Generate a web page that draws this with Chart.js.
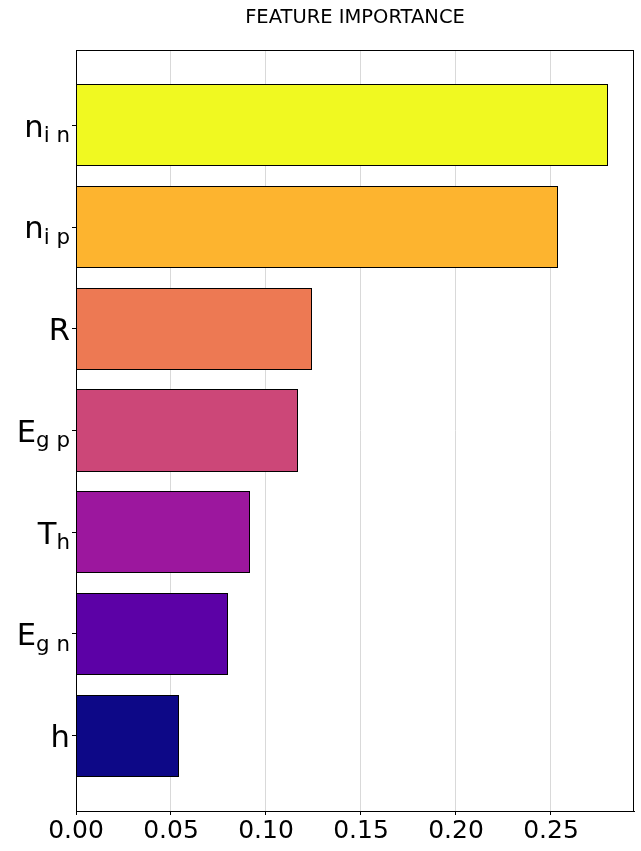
<!DOCTYPE html>
<html>
<head>
<meta charset="utf-8">
<script src="https://cdn.jsdelivr.net/npm/chart.js@4/dist/chart.umd.min.js"></script>
<style>
  html, body { margin: 0; padding: 0; background: #ffffff; }
  #wrap { width: 641px; height: 851px; position: relative; }
</style>
</head>
<body>
<div id="wrap"><canvas id="c"></canvas></div>
<script>
// ---- data (top to bottom as shown) ----
const chartTitle = 'FEATURE IMPORTANCE';
const categories = ['n_i n', 'n_i p', 'R', 'E_g p', 'T_h', 'E_g n', 'h'];
const importance = [0.2796, 0.2535, 0.1237, 0.1166, 0.0914, 0.0795, 0.0537];
const barColors = ['#f0f921', '#fdb42f', '#ed7953', '#cc4778', '#9c179e', '#5c01a6', '#0d0887'];
const xTickValues = [0, 0.05, 0.10, 0.15, 0.20, 0.25];

const n = categories.length;
// category position: top item gets highest index (matplotlib barh style)
const points = importance.map((v, i) => ({ x: v, y: n - 1 - i }));
const labelByPos = {};
categories.forEach((c, i) => { labelByPos[n - 1 - i] = c; });

const FONT = '"DejaVu Sans", Verdana, sans-serif';

// crisp black outlines around the library's bar elements
const outlinePlugin = {
  id: 'outline',
  afterDatasetsDraw(chart) {
    const ctx = chart.ctx;
    ctx.save();
    ctx.strokeStyle = '#000000';
    ctx.lineWidth = 1;
    chart.getDatasetMeta(0).data.forEach(el => {
      const p = el.getProps(['x', 'y', 'base', 'height'], true);
      const l = Math.floor(Math.min(p.base, p.x));
      const r = Math.floor(Math.max(p.base, p.x));
      const t = Math.floor(p.y - p.height / 2);
      const b = Math.floor(p.y + p.height / 2);
      ctx.strokeRect(l + 0.5, t + 0.5, r - l, b - t);
    });
    ctx.restore();
  }
};

const decorPlugin = {
  id: 'decor',
  afterDraw(chart) {
    const ctx = chart.ctx;
    const a = chart.chartArea;
    const ys = chart.scales.y;
    ctx.save();
    // frame (all four spines)
    ctx.strokeStyle = '#000000';
    ctx.lineWidth = 1;
    ctx.strokeRect(Math.round(a.left) + 0.5, Math.round(a.top) + 0.5,
                   Math.round(a.right - a.left) - 1, Math.round(a.bottom - a.top));
    // title
    ctx.fillStyle = '#000000';
    ctx.font = '19.5px ' + FONT;
    ctx.textAlign = 'center';
    ctx.textBaseline = 'alphabetic';
    ctx.fillText(chartTitle, (a.left + a.right) / 2, 23);
    // y labels with subscripts
    const rightX = a.left - 6;
    ys.ticks.forEach(t => {
      const lab = labelByPos[t.value];
      if (lab === undefined) return;
      const yPix = ys.getPixelForValue(t.value);
      const parts = lab.split('_');
      const base = parts[0];
      const sub = parts.length > 1 ? parts[1] : '';
      ctx.textAlign = 'left';
      ctx.font = '21.4px ' + FONT;
      const subW = sub ? ctx.measureText(sub).width : 0;
      ctx.font = '30.6px ' + FONT;
      const baseW = ctx.measureText(base).width;
      const x0 = rightX - subW - baseW;
      ctx.fillText(base, x0, yPix + 11.3);
      if (sub) {
        ctx.font = '21.4px ' + FONT;
        ctx.fillText(sub, x0 + baseW, yPix + 16.8);
      }
    });
    ctx.restore();
  }
};

new Chart(document.getElementById('c'), {
  type: 'bar',
  data: {
    datasets: [{
      data: points,
      backgroundColor: barColors,
      borderWidth: 0,
      barPercentage: 1.0,
      categoryPercentage: 0.8
    }]
  },
  options: {
    indexAxis: 'y',
    responsive: true,
    maintainAspectRatio: false,
    animation: false,
    layout: { padding: { top: 50, right: 7, left: 0, bottom: 0 } },
    plugins: {
      legend: { display: false },
      tooltip: { enabled: false },
      title: { display: false }
    },
    scales: {
      x: {
        type: 'linear',
        position: 'bottom',
        min: 0,
        max: 0.2937,
        z: 1,
        afterFit(s) { s.height = 40; },
        afterBuildTicks(s) { s.ticks = xTickValues.map(v => ({ value: v })); },
        grid: {
          color: '#d9d9d9',
          lineWidth: 1,
          drawTicks: true,
          tickLength: 4,
          tickColor: '#000000'
        },
        border: { display: true, color: '#000000', width: 1 },
        ticks: {
          padding: 1,
          color: '#000000',
          font: { family: FONT, size: 25 },
          maxRotation: 0,
          autoSkip: false,
          callback: v => Number(v).toFixed(2)
        }
      },
      y: {
        type: 'linear',
        position: 'left',
        offset: false,
        min: -0.74,
        max: n - 1 + 0.74,
        afterFit(s) { s.width = 76; },
        afterBuildTicks(s) { s.ticks = categories.map((c, i) => ({ value: i })); },
        grid: {
          offset: false,
          drawOnChartArea: false,
          drawTicks: true,
          tickLength: 4,
          tickColor: '#000000',
          color: '#000000'
        },
        border: { display: true, color: '#000000', width: 1 },
        ticks: {
          autoSkip: false,
          padding: 0,
          callback: () => ''
        }
      }
    }
  },
  plugins: [outlinePlugin, decorPlugin]
});
</script>
</body>
</html>
